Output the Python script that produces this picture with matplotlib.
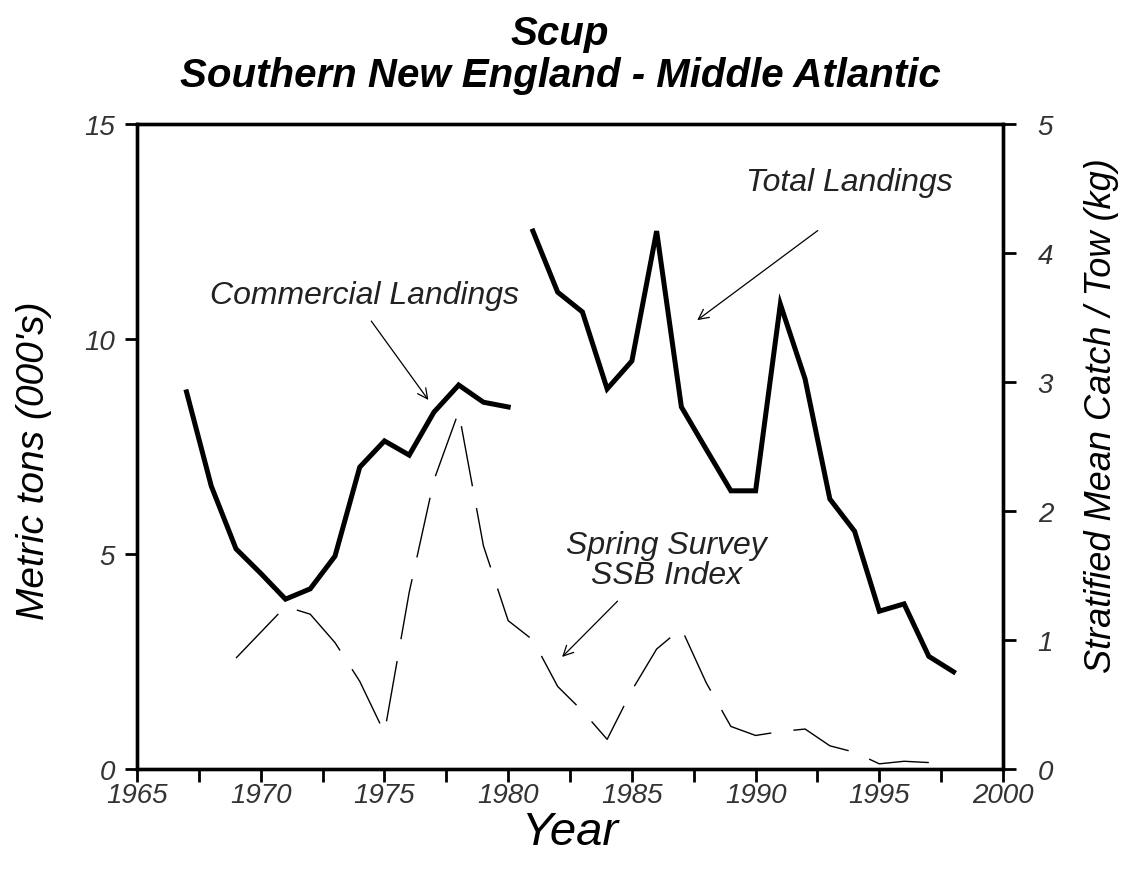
import matplotlib
matplotlib.use('Agg')
from matplotlib import pyplot as plt
from matplotlib.ticker import MultipleLocator

# commercial landings (000's metric tons)
comm_years = list(range(1967, 1981))
comm_land = [8.77, 6.58, 5.12, 4.55, 3.95, 4.19, 4.95, 7.02, 7.63, 7.30, 8.30, 8.93, 8.53, 8.42]

# total landings (000's metric tons)
tot_years = list(range(1981, 1999))
tot_land = [12.51, 11.09, 10.63, 8.84, 9.49, 12.51, 8.42, 7.44, 6.47, 6.47,
            10.81, 9.07, 6.28, 5.53, 3.67, 3.84, 2.62, 2.26]

# spring survey SSB index (kg / tow)
surv_years = list(range(1969, 1998))
surv_idx = [0.86, 1.06, 1.26, 1.20, 0.98, 0.68, 0.28, 1.37, 2.24, 2.77,
            1.73, 1.15, 1.00, 0.64, 0.45, 0.23, 0.61, 0.93, 1.09, 0.67,
            0.33, 0.26, 0.29, 0.31, 0.18, 0.13, 0.04, 0.06, 0.05]

plt.rcParams['font.family'] = ['Liberation Sans', 'DejaVu Sans']

fig = plt.figure(figsize=(11.27, 8.78), dpi=100)
ax = fig.add_axes([0.1216, 0.123, 0.7684, 0.7346])
ax2 = ax.twinx()

ax.plot(comm_years, comm_land, color='black', lw=3.6, solid_joinstyle='miter')
ax.plot(tot_years, tot_land, color='black', lw=3.6, solid_joinstyle='miter')
ax2.plot(surv_years, surv_idx, color='black', lw=1.0, linestyle=(0, (44, 16)))

ax.set_xlim(1965, 2000)
ax.set_ylim(0, 15)
ax2.set_ylim(0, 5)

ax.xaxis.set_major_locator(MultipleLocator(5))
ax.xaxis.set_minor_locator(MultipleLocator(2.5))
ax.yaxis.set_major_locator(MultipleLocator(5))
ax2.yaxis.set_major_locator(MultipleLocator(1))

for a in (ax, ax2):
    for s in a.spines.values():
        s.set_linewidth(2.4)
    a.tick_params(which='both', direction='out', length=9, width=2, pad=7,
                  labelcolor='#333333')
    for lbl in a.get_xticklabels() + a.get_yticklabels():
        lbl.set_fontstyle('italic')
        lbl.set_fontsize(20)
ax.tick_params(axis='x', pad=0)
ax2.tick_params(axis='y', pad=16)

ax.set_xlabel('Year', fontsize=34, fontstyle='italic', labelpad=2)
ax.set_ylabel("Metric tons (000's)", fontsize=28, fontstyle='italic')
ax.yaxis.set_label_coords(-0.098, 0.48)
ax2.set_ylabel('Stratified Mean Catch / Tow (kg)', fontsize=26, fontstyle='italic')
ax2.yaxis.set_label_coords(1.093, 0.55)

fig.text(0.497, 0.961, 'Scup', ha='center', va='center', fontsize=29,
         fontweight='bold', fontstyle='italic')
fig.text(0.497, 0.913, 'Southern New England - Middle Atlantic', ha='center', va='center',
         fontsize=29, fontweight='bold', fontstyle='italic')

# annotations
ann_font = dict(fontsize=23, fontstyle='italic', color='#222222', ha='center', va='center')
arrow = dict(arrowstyle='->', lw=0.9, color='black', mutation_scale=18)
ax.text(1993.8, 13.65, 'Total Landings', **ann_font)
ax.annotate('', xy=(1987.55, 10.4), xytext=(1992.6, 12.56), arrowprops=arrow)
ax.text(1974.2, 11.02, 'Commercial Landings', **ann_font)
ax.annotate('', xy=(1976.84, 8.53), xytext=(1974.4, 10.47), arrowprops=arrow)
ax.text(1986.4, 4.85, 'Spring Survey\nSSB Index', linespacing=1.0, **ann_font)
ax.annotate('', xy=(1982.1, 2.56), xytext=(1984.5, 3.95), arrowprops=arrow)

fig.savefig('out.png', dpi=100)
